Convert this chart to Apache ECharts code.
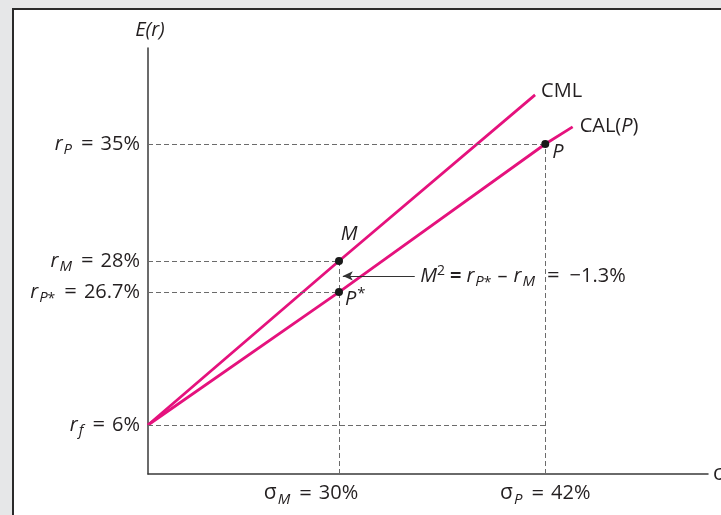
<!DOCTYPE html>
<html>
<head>
<meta charset="utf-8">
<script src="https://cdn.jsdelivr.net/npm/echarts@6/dist/echarts.min.js"></script>
<style>
html,body{margin:0;padding:0;background:#e6e7e8;width:721px;height:515px;overflow:hidden;}
#panel{position:absolute;left:12px;top:8px;width:760px;height:560px;background:#fff;border-top:2px solid #2a2a2a;border-left:2px solid #2a2a2a;box-sizing:border-box;}
#chart{position:absolute;left:0;top:0;width:721px;height:515px;}
</style>
</head>
<body>
<div id="panel"></div>
<div id="chart"></div>
<script>
// Schematic diagram: values are in the figure's own (not-to-scale) units
const sigmaTicks = [30, 62.4];                  // sigma_M, sigma_P positions
const sigmaTickLabels = ['{g|σ}{s|M}{eq|=}{n|30%}', '{g|σ}{s|P}{eq|=}{n|42%}'];
const retTicks = [6, 23.84, 28, 43.7];           // r_f, r_P*, r_M, r_P positions
const retTickLabels = ['{i|r}{s|f}{eq|=}{n|6%}', '{i|r}{s0|P}{st|*}{eq|=}{n|26.7%}', '{i|r}{s|M}{eq|=}{n|28%}', '{i|r}{s|P}{eq|=}{n|35%}'];
const cmlX = [0, 30, 60.8];
const cmlY = [6, 28, 50.3];
const calX = [0, 30, 62.4, 66.7];
const calY = [6, 23.84, 43.7, 46.0];
const pointNames = ['M', 'P*', 'P'];
const pointX = [30, 30, 62.4];
const pointY = [28, 23.84, 43.7];
const m2X = [41.9, 30.6];   // arrow from label to sigma_M line
const m2Y = 26;

const FONT = 'Open Sans';
const MAG = '#e5127d';
const GRAY = '#6b6b6b';
const TXT = '#231f20';
const FS = 20;
const xMin = 0, xMax = 87.96, yMin = -0.573, yMax = 56.58;

const richBase = {
  i: {fontStyle: 'italic', fontSize: FS, color: TXT, fontFamily: FONT},
  g: {fontSize: FS + 1, color: TXT, fontFamily: FONT},
  s: {fontStyle: 'italic', fontSize: 15, color: TXT, fontFamily: FONT, padding: [12, 0, 0, 1]},
  s0: {fontStyle: 'italic', fontSize: 15, color: TXT, fontFamily: FONT, padding: [12, 0, 0, 1]},
  st: {fontSize: 14, color: TXT, fontFamily: FONT, padding: [14, 0, 0, 0]},
  eq: {fontSize: FS + 2, color: TXT, fontFamily: FONT, padding: [0, 7, 0, 9]},
  n: {fontSize: FS, color: TXT, fontFamily: FONT},
  sup: {fontSize: 15, color: TXT, fontFamily: FONT, padding: [0, 0, 11, 1]}
};

function pick(vals, labels, v) {
  for (let k = 0; k < vals.length; k++) if (Math.abs(vals[k] - v) < 1e-6) return labels[k];
  return '';
}

const chart = echarts.init(document.getElementById('chart'), null, {renderer: 'canvas'});

const dashed = [];
// horizontal guides
dashed.push([{coord: [0, retTicks[3]]}, {coord: [pointX[2], retTicks[3]]}]);
dashed.push([{coord: [0, retTicks[2]]}, {coord: [pointX[0], retTicks[2]]}]);
dashed.push([{coord: [0, retTicks[1]]}, {coord: [pointX[1], retTicks[1]]}]);
dashed.push([{coord: [0, retTicks[0]]}, {coord: [pointX[2], retTicks[0]]}]);
// vertical guides
dashed.push([{coord: [sigmaTicks[0], yMin]}, {coord: [sigmaTicks[0], pointY[0]]}]);
dashed.push([{coord: [sigmaTicks[1], yMin]}, {coord: [sigmaTicks[1], pointY[2]]}]);

const lblBase = {show: true, color: TXT, textBorderWidth: 0, rich: richBase};
const pointLabels = [
  Object.assign({}, lblBase, {position: 'top', distance: 13, offset: [10, 0], formatter: '{i|M}'}),
  Object.assign({}, lblBase, {position: 'right', distance: 2, offset: [0, 7], formatter: '{i|P}{sup|*}'}),
  Object.assign({}, lblBase, {position: 'right', distance: 3, offset: [0, 8], formatter: '{i|P}'})
];

const option = {
  backgroundColor: 'transparent',
  animation: false,
  grid: {left: 148, right: 13, top: 48, bottom: 41, containLabel: false, outerBoundsMode: 'none'},
  xAxis: {
    type: 'value', min: xMin, max: xMax,
    name: 'σ', nameLocation: 'end', nameGap: 5,
    nameTextStyle: {fontSize: FS + 1, color: TXT, fontFamily: FONT, verticalAlign: 'middle'},
    axisLine: {show: true, onZero: false, lineStyle: {color: '#3a3a3a', width: 1.5}},
    axisTick: {show: false},
    splitLine: {show: false},
    axisLabel: {
      show: true, customValues: sigmaTicks, margin: 6,
      formatter: function (v) {
        let l = pick(sigmaTicks, sigmaTickLabels, v);
        if (Math.abs(v - sigmaTicks[0]) < 1e-6) l = l.replace('{n|', '{n2|');
        return l;
      },
      rich: Object.assign({}, richBase, {
        n2: {fontSize: FS, color: TXT, fontFamily: FONT, padding: [0, 56, 0, 0]}
      })
    }
  },
  yAxis: {
    type: 'value', min: yMin, max: yMax,
    name: 'E(r)', nameLocation: 'end', nameGap: 8,
    nameTextStyle: {fontSize: FS, fontStyle: 'italic', color: TXT, fontFamily: FONT, align: 'center', padding: [0, 0, 0, 4]},
    axisLine: {show: true, onZero: false, lineStyle: {color: '#3a3a3a', width: 1.5}},
    axisTick: {show: false},
    splitLine: {show: false},
    axisLabel: {
      show: true, customValues: retTicks, margin: 8,
      formatter: function (v) { return pick(retTicks, retTickLabels, v); },
      rich: richBase
    }
  },
  series: [
    {
      type: 'line', name: 'guides', data: [], silent: true,
      markLine: {
        silent: true, symbol: ['none', 'none'], animation: false,
        label: {show: false},
        lineStyle: {type: [5, 3], color: GRAY, width: 1},
        emphasis: {disabled: true},
        data: dashed
      }
    },
    {
      type: 'line', name: 'CML', data: cmlX.map((x, k) => [x, cmlY[k]]),
      showSymbol: false, symbol: 'none', z: 3,
      lineStyle: {color: MAG, width: 2.8},
      endLabel: {show: true, color: TXT, formatter: '{n|CML}', distance: 6, offset: [0, -4], rich: richBase}
    },
    {
      type: 'line', name: 'CAL', data: calX.map((x, k) => [x, calY[k]]),
      showSymbol: false, symbol: 'none', z: 3,
      lineStyle: {color: MAG, width: 2.8},
      endLabel: {show: true, color: TXT, formatter: '{n|CAL(}{i|P}{n|)}', distance: 7, offset: [0, -1], rich: richBase}
    },
    {
      type: 'scatter', name: 'points', z: 5,
      symbol: 'circle', symbolSize: 8,
      itemStyle: {color: '#1a1a1a', opacity: 1},
      emphasis: {disabled: true},
      data: pointNames.map((n, k) => ({name: n, value: [pointX[k], pointY[k]], label: pointLabels[k]}))
    },
    {
      type: 'scatter', name: 'm2', z: 4,
      symbolSize: 1, itemStyle: {color: '#ffffff', opacity: 1},
      emphasis: {disabled: true},
      data: [{
        value: [m2X[0], m2Y],
        label: Object.assign({}, lblBase, {
          position: 'right', distance: 5,
          formatter: '{i|M}{sup|2}{b|=}{i|r}{s0|P}{st|*}{d|–}{i|r}{s|M}{eq|=}{n|−1.3%}',
          rich: Object.assign({}, richBase, {
            sup: {fontSize: 14, color: TXT, fontFamily: FONT, padding: [0, 0, 10, 0]},
            b: {fontSize: FS, color: TXT, fontFamily: FONT, fontWeight: 'bold', padding: [0, 5, 0, 5]},
            d: {fontSize: FS, color: TXT, fontFamily: FONT, padding: [0, 6, 0, 6]},
            eq: {fontSize: FS + 2, color: TXT, fontFamily: FONT, padding: [0, 10, 0, 12]}
          })
        })
      }],
      markLine: {
        silent: true, symbol: ['none', 'arrow'], symbolSize: [7, 10], animation: false,
        label: {show: false},
        lineStyle: {type: 'solid', color: '#333', width: 1.2},
        emphasis: {disabled: true},
        data: [[{coord: [m2X[0], m2Y]}, {coord: [m2X[1], m2Y]}]]
      }
    }
  ]
};
chart.setOption(option);
</script>
</body>
</html>
